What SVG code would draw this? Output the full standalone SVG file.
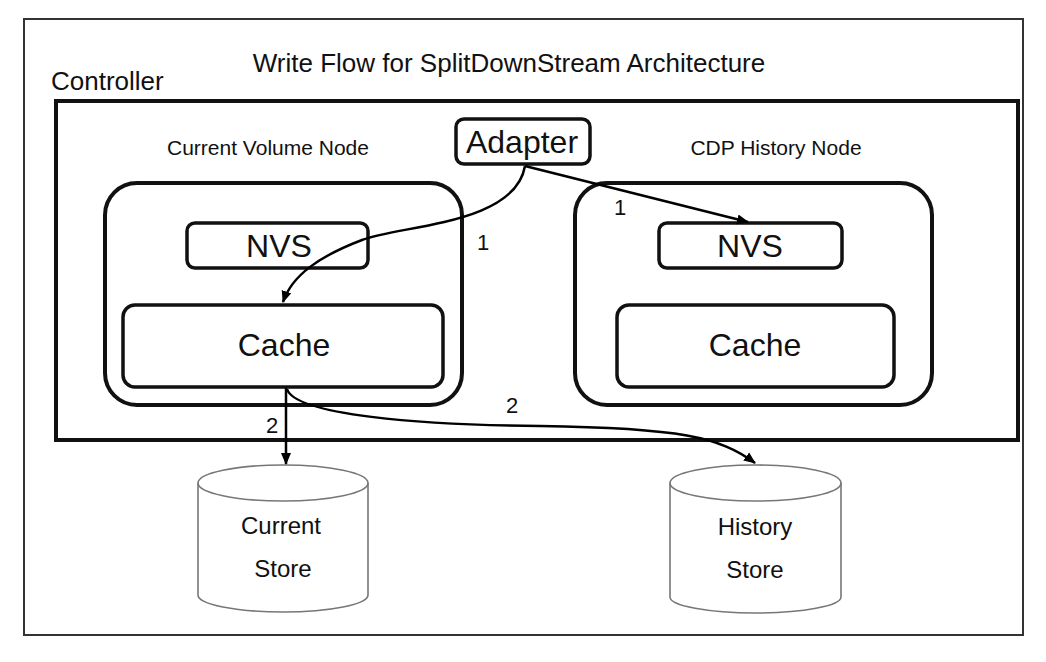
<svg xmlns="http://www.w3.org/2000/svg" width="1046" height="662" viewBox="0 0 1046 662">
<defs>
<marker id="arr" viewBox="0 0 12 12" refX="11" refY="6" markerWidth="12" markerHeight="12" markerUnits="userSpaceOnUse" orient="auto">
<path d="M0,1 L12,6 L0,11 Z" fill="#000"/>
</marker>
<style>
text{font-family:"Liberation Sans",Arial,sans-serif;fill:#111;}
.node{fill:#fff;stroke:#111;stroke-width:4;}
.inner{fill:#fff;stroke:#111;stroke-width:3.5;}
.cyl{fill:#fff;stroke:#777;stroke-width:1.6;}
.conn{fill:none;stroke:#000;stroke-width:2.5;}
.big{font-size:32px;text-anchor:middle;}
.mid{font-size:21px;text-anchor:middle;}
.lbl{font-size:24px;text-anchor:middle;}
.num{font-size:22px;text-anchor:middle;}
</style>
</defs>
<rect x="0" y="0" width="1046" height="662" fill="#fff"/>
<rect id="frame" x="24" y="19" width="999" height="616" fill="none" stroke="#333" stroke-width="2"/>
<text x="509" y="72" font-size="26" text-anchor="middle">Write Flow for SplitDownStream Architecture</text>
<g id="controller">
<text x="51" y="90" font-size="26">Controller</text>
<rect x="56" y="101" width="962" height="339" fill="none" stroke="#111" stroke-width="4"/>
</g>
<g id="current-volume-node">
<text x="268" y="155" class="mid">Current Volume Node</text>
<rect class="node" x="105" y="183" width="357" height="222" rx="32"/>
</g>
<g id="cvn-nvs">
<rect class="inner" x="187" y="223" width="181" height="45" rx="8"/>
<text x="279" y="257" class="big">NVS</text>
</g>
<g id="cvn-cache">
<rect class="inner" x="123" y="305" width="320" height="82" rx="12"/>
<text x="284" y="356" class="big">Cache</text>
</g>
<g id="cdp-history-node">
<text x="776" y="155" class="mid">CDP History Node</text>
<rect class="node" x="575" y="183" width="357" height="222" rx="32"/>
</g>
<g id="chn-nvs">
<rect class="inner" x="659" y="223" width="183" height="45" rx="8"/>
<text x="750" y="257" class="big">NVS</text>
</g>
<g id="chn-cache">
<rect class="inner" x="617" y="305" width="277" height="82" rx="12"/>
<text x="755" y="356" class="big">Cache</text>
</g>
<g id="adapter">
<rect class="inner" x="456" y="119" width="134" height="45" rx="8"/>
<text x="522" y="153" class="big">Adapter</text>
</g>
<g id="current-store">
<path class="cyl" d="M198,483 L198,595 A85,17 0 0 0 368,595 L368,483"/>
<ellipse class="cyl" cx="283" cy="483" rx="85" ry="18"/>
<text x="281" y="534" class="lbl">Current</text>
<text x="283" y="577" class="lbl">Store</text>
</g>
<g id="history-store">
<path class="cyl" d="M670,483 L670,597 A85.5,16 0 0 0 841,597 L841,483"/>
<ellipse class="cyl" cx="755.5" cy="483" rx="85.5" ry="18"/>
<text x="755" y="535" class="lbl">History</text>
<text x="755" y="578" class="lbl">Store</text>
</g>
<g id="connectors">
<path class="conn" d="M525,166 C515,225 400,225 362,240 C320,256 292,275 283,302" marker-end="url(#arr)"/>
<path class="conn" d="M525,166 L748,222" marker-end="url(#arr)"/>
<path class="conn" d="M286,388 L286,464" marker-end="url(#arr)"/>
<path class="conn" d="M287,389 C295,415 420,425 540,426 C680,428 720,437 755,463" marker-end="url(#arr)"/>
<text x="483" y="250" class="num">1</text>
<text x="620" y="215" class="num">1</text>
<text x="272" y="433" class="num">2</text>
<text x="512" y="413" class="num">2</text>
</g>
</svg>
